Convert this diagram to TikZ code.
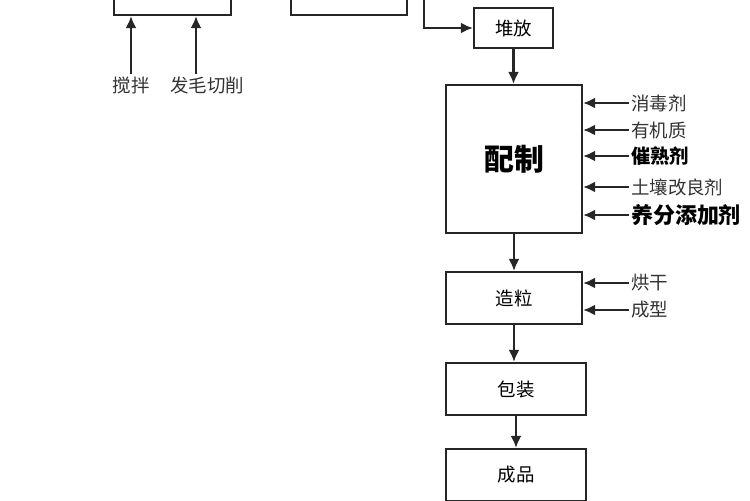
\documentclass[tikz,border=0pt]{standalone}
\usepackage{fontspec}
\setmainfont{Noto Sans CJK SC}
\usetikzlibrary{arrows.meta, positioning, calc}
\tikzset{
    stepbox/.style={
        rectangle,
        draw=black!85,
        line width=1.3pt,
        fill=white,
        font=\fontsize{10.5}{12}\selectfont
    },
    wire/.style={
        draw=black!85,
        line width=1.2pt,
        -{Latex[length=2.4mm,width=2.2mm]}
    },
    sidelabel/.style={
        anchor=west,
        inner sep=1pt,
        font=\fontsize{10.5}{12}\selectfont,
        text=black!80
    },
    boldlabel/.style={
        sidelabel,
        font=\fontsize{12.5}{14}\selectfont\bfseries,
        text=black
    }
}
\begin{document}
\begin{tikzpicture}[x=0.02cm, y=-0.02cm]
\useasboundingbox (0,0) rectangle (750,500);
\clip (0,0) rectangle (750,500);

% cut-off boxes at the top
\node[stepbox, minimum width=2.34cm, minimum height=1.1cm] (b1) at (172.5,-12.5) {};
\node[stepbox, minimum width=2.32cm, minimum height=1.1cm] (b2) at (349,-12.5) {};
\coordinate (feed) at (424,-20);

% main column
\node[stepbox, minimum width=1.58cm, minimum height=0.8cm] (df) at (513.5,28) {堆放};
\node[stepbox, minimum width=2.72cm, minimum height=2.96cm, font=\fontsize{17}{20}\selectfont\bfseries] (pz) at (514,159) {配制};
\node[stepbox, minimum width=2.72cm, minimum height=1.04cm] (zl) at (514,298) {造粒};
\node[stepbox, minimum width=2.8cm, minimum height=1.04cm] (bz) at (516,389) {包装};
\node[stepbox, minimum width=2.8cm, minimum height=1.04cm] (cp) at (516,475) {成品};

\draw[wire] (feed) |- (df.west);
\draw[wire] (df) -- (df |- pz.north);
\draw[wire] (pz) -- (pz |- zl.north);
\draw[wire] (zl) -- (zl |- bz.north);
\draw[wire] (bz) -- (bz |- cp.north);

% inputs below the top boxes
\node[sidelabel, anchor=center] (jb) at (131,85) {搅拌};
\node[sidelabel, anchor=center] (fm) at (207,85) {发毛切削};
\draw[wire] (jb.north) -- (jb.north |- b1.south);
\draw[wire] ([xshift=-0.22cm]fm.north) -- ([xshift=-0.22cm]fm.north |- b1.south);

% inputs of 配制
\node[sidelabel] (xd) at (629,103) {消毒剂};
\node[sidelabel] (yj) at (629,130) {有机质};
\node[boldlabel, font=\fontsize{11}{13}\selectfont\bfseries] (cs) at (629,156) {催熟剂};
\node[sidelabel] (tr) at (629,187) {土壤改良剂};
\node[boldlabel] (yf) at (629,215) {养分添加剂};
\foreach \n in {xd,yj,cs,tr,yf}
    \draw[wire] (\n.west) -- (\n.west -| pz.east);

% inputs of 造粒
\node[sidelabel] (hg) at (629,283) {烘干};
\node[sidelabel] (cx) at (629,310) {成型};
\foreach \n in {hg,cx}
    \draw[wire] (\n.west) -- (\n.west -| zl.east);

\end{tikzpicture}
\end{document}
